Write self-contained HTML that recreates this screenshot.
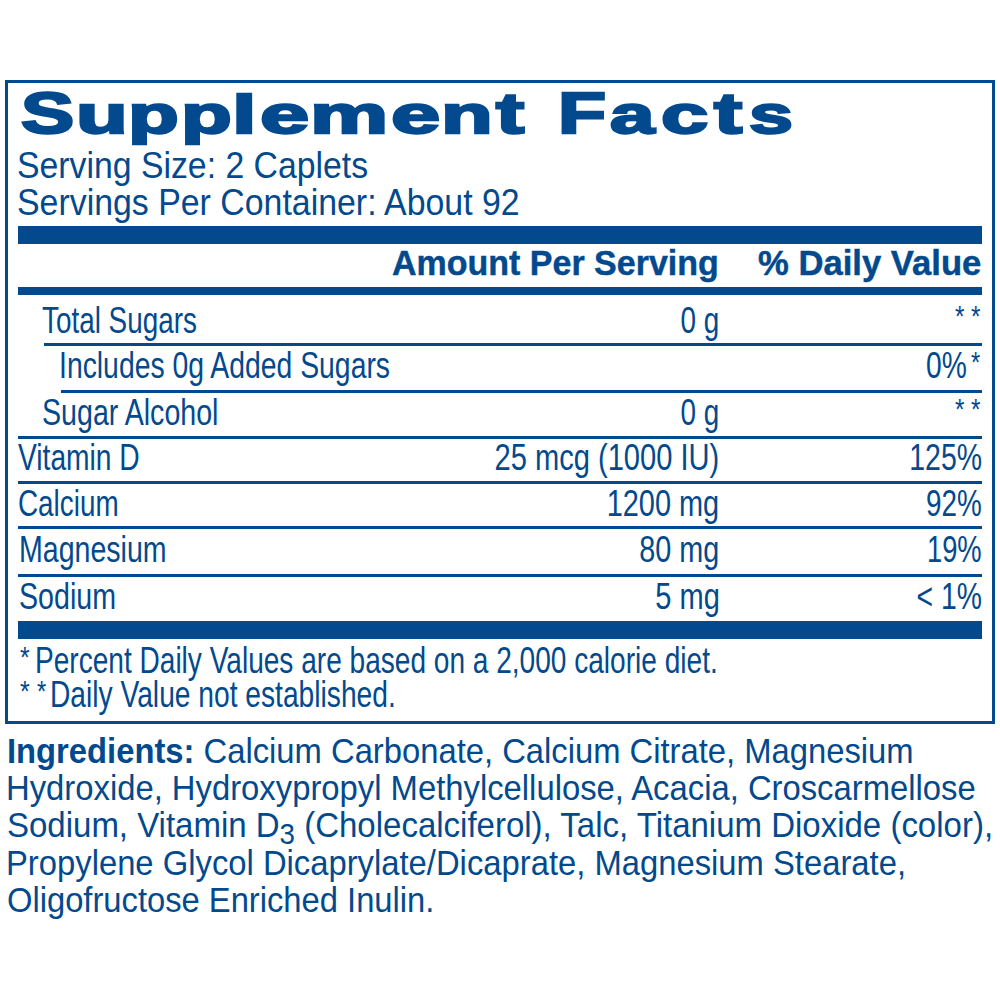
<!DOCTYPE html>
<html><head><meta charset="utf-8"><title>Supplement Facts</title><style>
html,body{margin:0;padding:0;background:#fff;width:1000px;height:1000px;overflow:hidden}
body{position:relative;font-family:"Liberation Sans",sans-serif;color:#03498d}
.t{position:absolute;white-space:nowrap;line-height:1}
.r{position:absolute;background:#03498d}
.sub{font-size:0.84em;position:relative;top:0.23em}
b{font-weight:700}
</style></head><body>
<div style="position:absolute;left:5px;top:80px;width:984px;height:637.5px;border:3px solid #03498d"></div>
<div class="r" style="left:18px;top:226px;width:964px;height:18px"></div>
<div class="r" style="left:18px;top:286.5px;width:964px;height:8.7px"></div>
<div class="r" style="left:44px;top:343.3px;width:938px;height:3px"></div>
<div class="r" style="left:61.4px;top:389.5px;width:920.6px;height:3px"></div>
<div class="r" style="left:17.8px;top:435.5px;width:964.2px;height:3px"></div>
<div class="r" style="left:17.8px;top:480.7px;width:964.2px;height:3px"></div>
<div class="r" style="left:17.8px;top:525.7px;width:964.2px;height:3px"></div>
<div class="r" style="left:17.8px;top:573.9px;width:964.2px;height:3px"></div>
<div class="r" style="left:18px;top:621px;width:964px;height:17.5px"></div>
<div class="t" style="left:20.83px;transform-origin:0 47.83px;top:85.57px;font-size:56.50px;font-weight:700;transform:scaleX(1.4105);-webkit-text-stroke:2.4px #03498d;">S</div>
<div class="t" style="left:75.81px;transform-origin:0 47.83px;top:85.57px;font-size:56.50px;font-weight:700;transform:scale(1.5000,0.9550);-webkit-text-stroke:2.4px #03498d;">u</div>
<div class="t" style="left:127.51px;transform-origin:0 47.83px;top:85.57px;font-size:56.50px;font-weight:700;transform:scale(1.4723,0.9550);-webkit-text-stroke:2.4px #03498d;">p</div>
<div class="t" style="left:180.96px;transform-origin:0 47.83px;top:85.57px;font-size:56.50px;font-weight:700;transform:scale(1.4723,0.9550);-webkit-text-stroke:2.4px #03498d;">p</div>
<div class="t" style="left:232.48px;transform-origin:0 47.83px;top:85.57px;font-size:56.50px;font-weight:700;transform:scale(1.5628,0.9450);-webkit-text-stroke:2.4px #03498d;">l</div>
<div class="t" style="left:259.82px;transform-origin:0 47.83px;top:85.57px;font-size:56.50px;font-weight:700;transform:scale(1.5670,0.9550);-webkit-text-stroke:2.4px #03498d;">e</div>
<div class="t" style="left:310.30px;transform-origin:0 47.83px;top:85.57px;font-size:56.50px;font-weight:700;transform:scale(1.5564,0.9550);-webkit-text-stroke:2.4px #03498d;">m</div>
<div class="t" style="left:390.82px;transform-origin:0 47.83px;top:85.57px;font-size:56.50px;font-weight:700;transform:scale(1.5670,0.9550);-webkit-text-stroke:2.4px #03498d;">e</div>
<div class="t" style="left:441.25px;transform-origin:0 47.83px;top:85.57px;font-size:56.50px;font-weight:700;transform:scale(1.5000,0.9550);-webkit-text-stroke:2.4px #03498d;">n</div>
<div class="t" style="left:495.75px;transform-origin:0 47.83px;top:85.57px;font-size:56.50px;font-weight:700;transform:scaleX(1.5000);-webkit-text-stroke:2.4px #03498d;">t</div>
<div class="t" style="left:557.75px;transform-origin:0 47.83px;top:85.57px;font-size:56.50px;font-weight:700;transform:scaleX(1.3921);-webkit-text-stroke:2.4px #03498d;">F</div>
<div class="t" style="left:609.72px;transform-origin:0 47.83px;top:85.57px;font-size:56.50px;font-weight:700;transform:scale(1.4163,0.9550);-webkit-text-stroke:2.4px #03498d;">a</div>
<div class="t" style="left:661.43px;transform-origin:0 47.83px;top:85.57px;font-size:56.50px;font-weight:700;transform:scale(1.5025,0.9550);-webkit-text-stroke:2.4px #03498d;">c</div>
<div class="t" style="left:714.13px;transform-origin:0 47.83px;top:85.57px;font-size:56.50px;font-weight:700;transform:scaleX(1.5000);-webkit-text-stroke:2.4px #03498d;">t</div>
<div class="t" style="left:749.47px;transform-origin:0 47.83px;top:85.57px;font-size:56.50px;font-weight:700;transform:scale(1.4000,0.9550);-webkit-text-stroke:2.4px #03498d;">s</div>
<div class="t" style="left:17.18px;transform-origin:0 30.73px;top:147.87px;font-size:36.30px;transform:scaleX(0.9307);">Serving Size: 2 Caplets</div>
<div class="t" style="left:17.17px;transform-origin:0 30.73px;top:184.87px;font-size:36.30px;transform:scaleX(0.9331);">Servings Per Container: About 92</div>
<div class="t" style="left:391.99px;transform-origin:0 29.80px;top:245.30px;font-size:35.20px;font-weight:700;transform:scaleX(0.9660);-webkit-text-stroke:0.45px #03498d;">Amount Per Serving</div>
<div class="t" style="left:758.00px;transform-origin:0 29.97px;top:245.53px;font-size:35.40px;font-weight:700;transform:scaleX(0.9788);-webkit-text-stroke:0.45px #03498d;">% Daily Value</div>
<div class="t" style="left:42.40px;transform-origin:0 31.15px;top:302.55px;font-size:36.80px;transform:scaleX(0.7570);">Total Sugars</div>
<div class="t" style="right:281.00px;transform-origin:100% 31.15px;top:302.55px;font-size:36.80px;transform:scaleX(0.7572);">0 g</div>
<div class="t" style="left:954.52px;transform-origin:0 24.80px;top:301.36px;font-size:29.30px;transform:scaleX(0.8282);">*</div>
<div class="t" style="left:970.52px;transform-origin:0 24.80px;top:301.36px;font-size:29.30px;transform:scaleX(0.8282);">*</div>
<div class="t" style="left:58.96px;transform-origin:0 31.15px;top:348.10px;font-size:36.80px;transform:scaleX(0.7705);">Includes 0g Added Sugars</div>
<div class="t" style="left:925.60px;transform-origin:0 31.15px;top:348.10px;font-size:36.80px;transform:scaleX(0.7670);">0%</div>
<div class="t" style="left:971.00px;transform-origin:0 24.80px;top:347.36px;font-size:29.30px;transform:scaleX(0.8073);">*</div>
<div class="t" style="left:42.39px;transform-origin:0 31.15px;top:394.60px;font-size:36.80px;transform:scaleX(0.7772);">Sugar Alcohol</div>
<div class="t" style="right:281.00px;transform-origin:100% 31.15px;top:394.60px;font-size:36.80px;transform:scaleX(0.7572);">0 g</div>
<div class="t" style="left:954.52px;transform-origin:0 24.80px;top:393.66px;font-size:29.30px;transform:scaleX(0.8282);">*</div>
<div class="t" style="left:970.52px;transform-origin:0 24.80px;top:393.66px;font-size:29.30px;transform:scaleX(0.8282);">*</div>
<div class="t" style="left:17.81px;transform-origin:0 31.15px;top:440.40px;font-size:36.80px;transform:scaleX(0.7665);">Vitamin D</div>
<div class="t" style="right:280.96px;transform-origin:100% 31.15px;top:440.40px;font-size:36.80px;transform:scaleX(0.7908);">25 mcg (1000 IU)</div>
<div class="t" style="right:18.17px;transform-origin:100% 31.15px;top:440.40px;font-size:36.80px;transform:scaleX(0.7739);">125%</div>
<div class="t" style="left:18.40px;transform-origin:0 31.15px;top:486.15px;font-size:36.80px;transform:scaleX(0.7570);">Calcium</div>
<div class="t" style="right:280.96px;transform-origin:100% 31.15px;top:486.15px;font-size:36.80px;transform:scaleX(0.7859);">1200 mg</div>
<div class="t" style="right:18.20px;transform-origin:100% 31.15px;top:486.15px;font-size:36.80px;transform:scaleX(0.7572);">92%</div>
<div class="t" style="left:18.55px;transform-origin:0 31.15px;top:532.00px;font-size:36.80px;transform:scaleX(0.7760);">Magnesium</div>
<div class="t" style="right:280.97px;transform-origin:100% 31.15px;top:532.00px;font-size:36.80px;transform:scaleX(0.7823);">80 mg</div>
<div class="t" style="right:18.21px;transform-origin:100% 31.15px;top:532.00px;font-size:36.80px;transform:scaleX(0.7429);">19%</div>
<div class="t" style="left:18.58px;transform-origin:0 31.15px;top:578.65px;font-size:36.80px;transform:scaleX(0.7776);">Sodium</div>
<div class="t" style="right:279.92px;transform-origin:100% 31.15px;top:578.65px;font-size:36.80px;transform:scaleX(0.7892);">5 mg</div>
<div class="t" style="right:18.19px;transform-origin:100% 31.15px;top:578.65px;font-size:36.80px;transform:scaleX(0.7692);">< 1%</div>
<div class="t" style="left:20.43px;transform-origin:0 24.80px;top:641.96px;font-size:29.30px;transform:scaleX(0.8497);">*</div>
<div class="t" style="left:34.79px;transform-origin:0 31.15px;top:642.55px;font-size:36.80px;transform:scaleX(0.7626);">Percent Daily Values are based on a 2,000 calorie diet.</div>
<div class="t" style="left:20.43px;transform-origin:0 24.80px;top:676.16px;font-size:29.30px;transform:scaleX(0.8497);">*</div>
<div class="t" style="left:36.85px;transform-origin:0 24.80px;top:676.16px;font-size:29.30px;transform:scaleX(0.8082);">*</div>
<div class="t" style="left:50.38px;transform-origin:0 31.15px;top:676.65px;font-size:36.80px;transform:scaleX(0.7660);">Daily Value not established.</div>
<div class="t" style="left:6.99px;transform-origin:0 29.97px;top:733.58px;font-size:35.40px;transform:scaleX(0.9256);"><b>Ingredients:</b> Calcium Carbonate, Calcium Citrate, Magnesium</div>
<div class="t" style="left:5.98px;transform-origin:0 29.97px;top:770.93px;font-size:35.40px;transform:scaleX(0.9267);">Hydroxide, Hydroxypropyl Methylcellulose, Acacia, Croscarmellose</div>
<div class="t" style="left:6.78px;transform-origin:0 29.97px;top:808.03px;font-size:35.40px;transform:scaleX(0.9323);">Sodium, Vitamin D<span class="sub">3</span> (Cholecalciferol), Talc, Titanium Dioxide (color),</div>
<div class="t" style="left:5.98px;transform-origin:0 29.97px;top:846.08px;font-size:35.40px;transform:scaleX(0.9262);">Propylene Glycol Dicaprylate/Dicaprate, Magnesium Stearate,</div>
<div class="t" style="left:7.20px;transform-origin:0 29.97px;top:882.73px;font-size:35.40px;transform:scaleX(0.9244);">Oligofructose Enriched Inulin.</div>
</body></html>
